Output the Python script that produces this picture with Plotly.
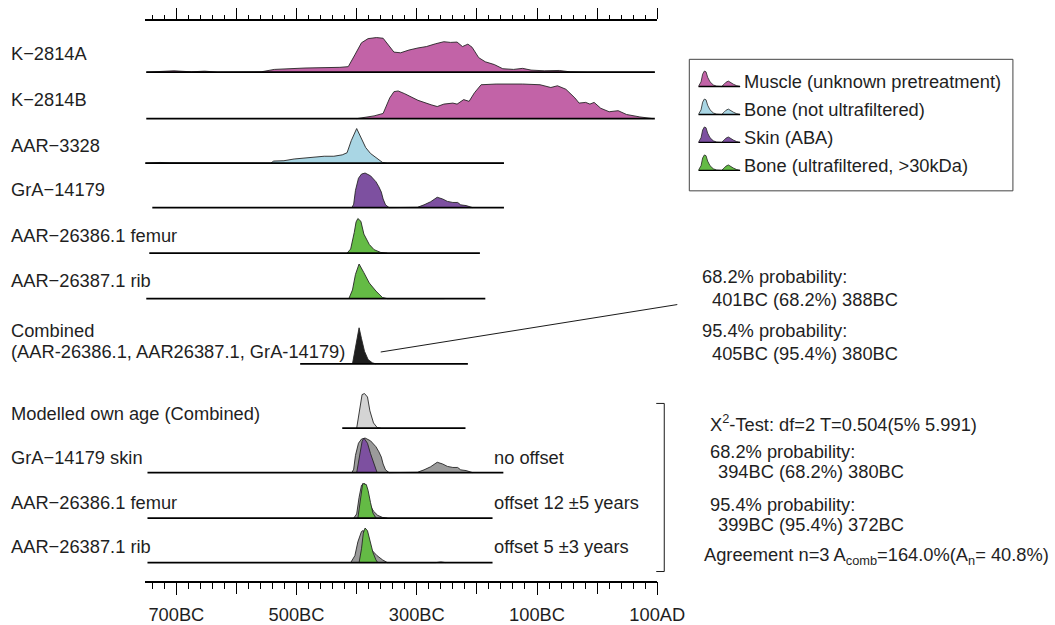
import plotly.graph_objects as go

# reference-pixel design frame
REF_W, REF_H = 1055, 625
# the photograph squeezes the page horizontally (x * ~0.973) but not vertically,
# so the page is built wider by that factor and at the reference height.
PAGE_W, PAGE_H = 1085, 625

FONT = "Liberation Sans, Arial, Helvetica, sans-serif"
TXT = "#1f1f1f"

# ---------------- data (years: negative = BC) ----------------
major_ticks = [-700, -600, -500, -400, -300, -200, -100, 0, 100]
label_ticks = [-700, -500, -300, -100, 100]
label_text = ["700BC", "500BC", "300BC", "100BC", "100AD"]

k2814a_yr = [-750, -704, -675, -653, -631, -559, -537, -486, -428, -414,
             -403, -392, -381, -367, -356, -345, -338, -327, -313, -298,
             -284, -269, -255, -244, -233, -224, -215, -208, -197, -186,
             -171, -157, -139, -124, -110, -88, -63, -45, -16, 96]
k2814a_p = [0, 0.04, 0.01, 0.03, 0.0, 0.01, 0.08, 0.12, 0.14, 0.16,
            0.5, 0.85, 0.97, 1.0, 0.98, 0.75, 0.58, 0.56, 0.64, 0.70,
            0.74, 0.82, 0.88, 0.86, 0.87, 0.74, 0.81, 0.72, 0.42, 0.30,
            0.22, 0.10, 0.08, 0.11, 0.06, 0.04, 0.05, 0.01, 0.0, 0.0]

k2814b_yr = [-400, -371, -356, -345, -338, -331, -320, -298, -276, -266,
             -255, -240, -233, -222, -213, -204, -193, -168, -124, -95,
             -77, -66, -52, -37, -30, -19, -12, -5, 6, 20,
             35, 49, 71, 93]
k2814b_p = [0, 0.08, 0.15, 0.6, 0.78, 0.8, 0.72, 0.53, 0.40, 0.35,
            0.42, 0.45, 0.42, 0.55, 0.50, 0.75, 0.98, 1.0, 1.0, 0.98,
            0.90, 0.95, 0.85, 0.6, 0.45, 0.47, 0.42, 0.47, 0.3, 0.2,
            0.23, 0.12, 0.05, 0]

aar3328_yr = [-752, -727, -712, -693, -675, -665, -657, -649, -543, -538,
              -521, -504, -488, -471, -454, -438, -424, -416, -409, -400,
              -393, -385, -377, -365, -357, -349, -277, -266, -255, -155]
aar3328_p = [0, 0.02, 0.01, 0.01, 0, 0, 0.02, 0, 0, 0.06,
             0.07, 0.12, 0.15, 0.19, 0.20, 0.20, 0.24, 0.30, 0.65, 1.0,
             0.75, 0.45, 0.28, 0.12, 0.02, 0, 0, 0.02, 0, 0]

gra_yr = [-408, -405, -402, -397, -392, -386, -377, -368, -363, -359,
          -356, -352, -346, -316, -299, -288, -277, -266, -257, -249,
          -240, -232, -227, -218, -213, -207]
gra_p = [0, 0.1, 0.5, 0.85, 0.97, 1.0, 0.92, 0.75, 0.6, 0.45,
         0.25, 0.08, 0, 0, 0.01, 0.08, 0.17, 0.3, 0.25, 0.18,
         0.15, 0.15, 0.08, 0.06, 0.04, 0]

femur_yr = [-416, -410, -404, -401, -398, -393, -388, -379, -371, -360, -349]
femur_p = [0, 0.12, 0.6, 0.9, 1.0, 0.92, 0.55, 0.25, 0.1, 0.02, 0]

rib_yr = [-413, -407, -402, -396, -388, -379, -368, -357, -349, -277, -266, -254]
rib_p = [0, 0.25, 0.7, 1.0, 0.75, 0.45, 0.22, 0.03, 0, 0, 0.02, 0]

comb_yr = [-407, -403, -399, -396, -392, -387, -381, -374, -368]
comb_p = [0, 0.35, 0.8, 1.0, 0.7, 0.35, 0.12, 0.03, 0]

own_yr = [-400, -396, -391, -387, -382, -378, -372, -366, -360]
own_p = [0, 0.4, 0.97, 1.0, 0.9, 0.5, 0.15, 0.02, 0]

skin_post_yr = [-400, -395, -391, -388, -382, -377, -372, -368, -366]
skin_post_p = [0, 0.5, 0.9, 1.0, 0.85, 0.55, 0.3, 0.05, 0]

femur_prior_yr = [-405, -400, -396, -392, -387, -382, -377, -372, -365, -357, -349]
femur_prior_p = [0, 0.12, 0.6, 0.95, 1.0, 0.65, 0.35, 0.2, 0.08, 0.02, 0]
femur_post_yr = [-398, -395, -392, -390, -384, -381, -377, -373, -369, -367]
femur_post_p = [0, 0.4, 0.9, 1.0, 0.97, 0.8, 0.45, 0.15, 0.03, 0]

rib_prior_yr = [-410, -403, -398, -392, -389, -382, -376, -366, -357, -349, -268, -260, -252]
rib_prior_p = [0, 0.2, 0.6, 0.9, 0.93, 0.6, 0.38, 0.2, 0.08, 0, 0, 0.02, 0]
rib_post_yr = [-396, -392, -389, -386, -382, -378, -373, -368, -365]
rib_post_p = [0, 0.4, 0.85, 1.0, 0.92, 0.6, 0.3, 0.08, 0]

# extent of each row's baseline (years)
row_start = [-750, -750, -752, -740, -745, -750, -494, -424, -748, -748, -748]
row_end = [96, 96, -155, -155, -195, -186, -215, -219, -156, -174, -174]

row_labels = ["K−2814A", "K−2814B", "AAR−3328", "GrA−14179", "AAR−26386.1 femur",
              "AAR−26387.1 rib", "Combined", "Modelled own age (Combined)",
              "GrA−14179 skin", "AAR−26386.1 femur", "AAR−26387.1 rib"]
offset_labels = ["no offset", "offset 12 ±5 years", "offset 5 ±3 years"]

legend_labels = ["Muscle (unknown pretreatment)", "Bone (not ultrafiltered)",
                 "Skin (ABA)", "Bone (ultrafiltered, >30kDa)"]
icon_dx = [0, 2.7, 4.3, 6, 7.7, 9.3, 11.7, 15, 18.3, 23.3, 25.7, 27.7, 30, 32.3, 35, 38.3, 41.7]
icon_h = [0, 0.3, 0.8, 1.0, 0.95, 0.6, 0.3, 0.1, 0.02, 0, 0.15, 0.28, 0.35, 0.25, 0.15, 0.05, 0]

# ---------------- styles / layout constants ----------------
C_MUSCLE = "#c263a7"
C_BONE = "#a9d6e4"
C_SKIN = "#7d50a0"
C_UF = "#64bb45"
C_COMB = "#1e1e1e"
C_OWN = "#d4d4d4"
C_PRIOR = "#9b9b9b"
OUTLINE = "#262626"

FS = 18.3                              # font size
PLOT_TOP, PLOT_BOT = 21, 588          # reference pixel rows of top / bottom axes
X_LEFT, X_RIGHT = 145, 656            # reference pixel columns of axis extent
XRANGE = [-751.67, 100]
ROW_BASE_PX = [73, 120, 165, 210, 256, 302, 368, 433, 478, 524, 569]
ROW_H = 35


def yb(px):
    return PLOT_BOT - px


fig = go.Figure()


def add_density(yrs, p, base_px, color, h=ROW_H):
    b = yb(base_px)
    fig.add_trace(go.Scatter(
        x=list(yrs), y=[b + h * v for v in p], mode="lines", fill="toself",
        fillcolor=color, line=dict(color=OUTLINE, width=0.9),
        hoverinfo="skip", showlegend=False))


add_density(k2814a_yr, k2814a_p, ROW_BASE_PX[0], C_MUSCLE)
add_density(k2814b_yr, k2814b_p, ROW_BASE_PX[1], C_MUSCLE)
add_density(aar3328_yr, aar3328_p, ROW_BASE_PX[2], C_BONE)
add_density(gra_yr, gra_p, ROW_BASE_PX[3], C_SKIN)
add_density(femur_yr, femur_p, ROW_BASE_PX[4], C_UF)
add_density(rib_yr, rib_p, ROW_BASE_PX[5], C_UF)
add_density(comb_yr, comb_p, ROW_BASE_PX[6], C_COMB, h=36.5)
add_density(own_yr, own_p, ROW_BASE_PX[7], C_OWN)
add_density(gra_yr, gra_p, ROW_BASE_PX[8], C_PRIOR)
add_density(skin_post_yr, skin_post_p, ROW_BASE_PX[8], C_SKIN)
add_density(femur_prior_yr, femur_prior_p, ROW_BASE_PX[9], C_PRIOR)
add_density(femur_post_yr, femur_post_p, ROW_BASE_PX[9], C_UF)
add_density(rib_prior_yr, rib_prior_p, ROW_BASE_PX[10], C_PRIOR)
add_density(rib_post_yr, rib_post_p, ROW_BASE_PX[10], C_UF)

for s, e, bpx in zip(row_start, row_end, ROW_BASE_PX):
    fig.add_trace(go.Scatter(x=[s, e], y=[yb(bpx), yb(bpx)], mode="lines",
                             line=dict(color="black", width=1.8),
                             hoverinfo="skip", showlegend=False))

# invisible traces to carry the extra axes
for xa in ("x2", "x4"):
    fig.add_trace(go.Scatter(x=XRANGE, y=[0, 0], xaxis=xa, yaxis="y", mode="lines",
                             line=dict(width=0), hoverinfo="skip", showlegend=False))

# legend icons
LEG_CENTERS = [82.5, 110.8, 139.0, 167.3]
leg_colors = [C_MUSCLE, C_BONE, C_SKIN, C_UF]
for cy, col in zip(LEG_CENTERS, leg_colors):
    base = cy + 5
    fig.add_trace(go.Scatter(x=icon_dx, y=[base - 15.6 * v for v in icon_h],
                             xaxis="x3", yaxis="y3", mode="lines", fill="toself",
                             fillcolor=col, line=dict(color=OUTLINE, width=0.8),
                             hoverinfo="skip", showlegend=False))
    fig.add_trace(go.Scatter(x=[0, 41.7], y=[base, base], xaxis="x3", yaxis="y3",
                             mode="lines", line=dict(color="black", width=1.4),
                             hoverinfo="skip", showlegend=False))


def px_x(x):
    return x / REF_W


def px_y(y):
    return 1 - y / REF_H


def ann(text, x, y, xanchor="left"):
    return dict(text=text, x=px_x(x), y=px_y(y), xref="paper", yref="paper",
                xanchor=xanchor, yanchor="middle", showarrow=False,
                font=dict(family=FONT, size=FS, color=TXT))


annotations = []
label_y = [54, 101, 147, 192, 238, 284, 334, 418, 463, 508, 553]
for lab, ly in zip(row_labels, label_y):
    annotations.append(ann(lab, 9, ly))
annotations.append(ann("(AAR-26386.1, AAR26387.1, GrA-14179)", 9, 355))
for lab, ly in zip(offset_labels, [463, 508, 553]):
    annotations.append(ann(lab, 491, ly))
for lab, ly in zip(legend_labels, LEG_CENTERS):
    annotations.append(ann(lab, 741, ly))

annotations += [
    ann("68.2% probability:", 699, 280),
    ann("401BC (68.2%) 388BC", 709, 303),
    ann("95.4% probability:", 699, 334),
    ann("405BC (95.4%) 380BC", 709, 357),
    ann("X<sup>2</sup>-Test: df=2 T=0.504(5% 5.991)", 707, 428),
    ann("68.2% probability:", 707, 457),
    ann("394BC (68.2%) 380BC", 715, 477),
    ann("95.4% probability:", 707, 510),
    ann("399BC (95.4%) 372BC", 715, 530),
    ann("Agreement n=3 A<sub>comb</sub>=164.0%(A<sub>n</sub>= 40.8%)", 701, 562),
]

shapes = [
    dict(type="line", xref="paper", yref="paper", x0=px_x(380), y0=px_y(356),
         x1=px_x(676), y1=px_y(308), line=dict(color="#1a1a1a", width=1)),
    dict(type="path", xref="paper", yref="paper",
         path=f"M {px_x(655)},{px_y(408)} L {px_x(663)},{px_y(408)} "
              f"L {px_x(663)},{px_y(578)} L {px_x(655)},{px_y(578)}",
         line=dict(color="#1a1a1a", width=1)),
    dict(type="rect", xref="paper", yref="paper", x0=px_x(688), y0=px_y(60),
         x1=px_x(1011), y1=px_y(193), line=dict(color="#444444", width=1),
         fillcolor="rgba(0,0,0,0)"),
]

axis_common = dict(range=XRANGE, linecolor="black", linewidth=1.3,
                   ticks="outside", tickcolor="black", tickwidth=1,
                   tickmode="array", showgrid=False,
                   zeroline=False, fixedrange=True)
minor_bottom = dict(tickmode="linear", tick0=-700, dtick=20, ticks="outside",
                    ticklen=6, tickcolor="black", tickwidth=1, showgrid=False)
minor_top = dict(minor_bottom, ticklen=4)

# the body keeps its 8px margin while loading: start 16px smaller, then drop the
# margin and take the full page size.
fig.update_layout(
    width=PAGE_W - 16, height=PAGE_H - 16, autosize=False,
    margin=dict(l=0, r=0, t=0, b=0),
    paper_bgcolor="white", plot_bgcolor="white",
    showlegend=False,
    font=dict(family=FONT, size=FS, color=TXT),
    xaxis=dict(domain=[X_LEFT / REF_W, X_RIGHT / REF_W], anchor="y",
               showline=True, tickvals=label_ticks, ticktext=label_text,
               ticklen=12, ticklabelstandoff=4,
               tickfont=dict(family=FONT, size=FS, color=TXT),
               minor=minor_bottom, **axis_common),
    xaxis4=dict(overlaying="x", side="bottom", anchor="y", showline=False,
                tickvals=major_ticks, ticklen=12, showticklabels=False,
                **axis_common),
    xaxis2=dict(overlaying="x", side="top", anchor="y", showline=True,
                tickvals=major_ticks, ticklen=11, showticklabels=False,
                minor=minor_top, **axis_common),
    yaxis=dict(domain=[(REF_H - PLOT_BOT) / REF_H, (REF_H - PLOT_TOP) / REF_H],
               range=[0, PLOT_BOT - PLOT_TOP], visible=False, fixedrange=True),
    xaxis3=dict(domain=[697 / REF_W, 741 / REF_W], anchor="y3", range=[0, 44],
                visible=False, fixedrange=True),
    yaxis3=dict(domain=[(REF_H - 193) / REF_H, (REF_H - 60) / REF_H], anchor="x3",
                range=[193, 60], visible=False, fixedrange=True),
    annotations=annotations,
    shapes=shapes,
)

post = (
    "var gd=document.getElementById('{plot_id}');"
    "document.documentElement.style.margin='0';"
    "document.body.style.margin='0';"
    f"gd.style.width='{PAGE_W}px';gd.style.height='{PAGE_H}px';"
    f"Plotly.relayout(gd,{{width:{PAGE_W},height:{PAGE_H}}});"
)

fig.write_html("out.html", post_script=post,
               config={"displayModeBar": False, "staticPlot": True})
